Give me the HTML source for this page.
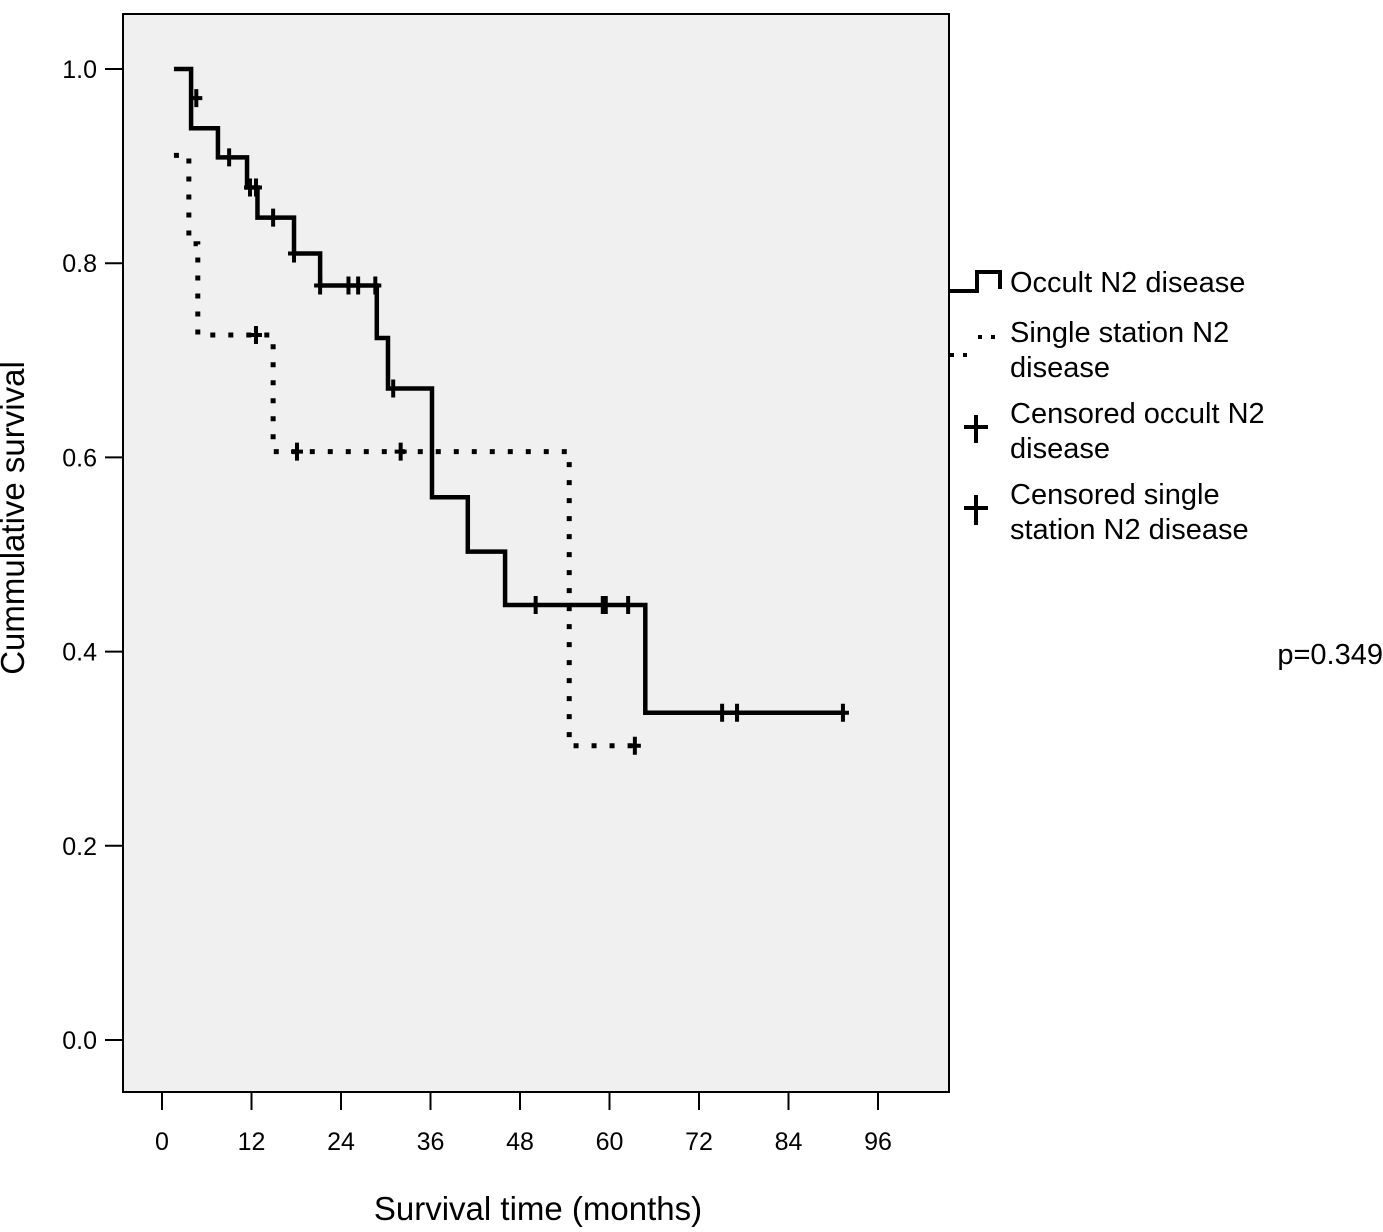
<!DOCTYPE html>
<html><head><meta charset="utf-8"><style>
body{margin:0;background:#fff;}
svg text{font-family:"Liberation Sans",Arial,sans-serif;fill:#000;}
</style></head><body>
<svg id="chart" width="1383" height="1227" xmlns="http://www.w3.org/2000/svg">
<rect x="123" y="14" width="826" height="1078" fill="#f0f0f0" stroke="#000" stroke-width="2"/>
<g id="yaxis"></g>
<g id="xaxis"></g>
<g id="series"></g>
<text transform="translate(24,518) rotate(-90)" text-anchor="middle" font-size="33">Cummulative survival</text>
<text x="538" y="1220" text-anchor="middle" font-size="33">Survival time (months)</text>
<g>
<path d="M950,291 H977 V272 H1000 V289" fill="none" stroke="#000" stroke-width="4"/>
<text x="1010" y="292" font-size="29">Occult N2 disease</text>
<path d="M950,355 H975 M978,337 H1000" fill="none" stroke="#000" stroke-width="4" stroke-dasharray="4,9"/>
<text x="1010" y="342" font-size="29">Single station N2</text>
<text x="1010" y="377" font-size="29">disease</text>
<path d="M964,427 H988 M976,415 H976 V443" stroke="#000" stroke-width="4"/>
<text x="1010" y="423" font-size="29">Censored occult N2</text>
<text x="1010" y="458" font-size="29">disease</text>
<path d="M964,508 H988 M976,495 V525" stroke="#000" stroke-width="4"/>
<text x="1010" y="504" font-size="29">Censored single</text>
<text x="1010" y="539" font-size="29">station N2 disease</text>
</g>
<text x="1383" y="664" text-anchor="end" font-size="29">p=0.349</text>
</svg>
<script>
const yTicks=[0.0,0.2,0.4,0.6,0.8,1.0];
const yTickLabels=["0.0","0.2","0.4","0.6","0.8","1.0"];
const xTicks=[0,12,24,36,48,60,72,84,96];
const xTickLabels=["0","12","24","36","48","60","72","84","96"];
const occultTimes=[1.6,3.9,7.5,11.4,12.8,17.7,21.2,28.8,30.3,36.2,41,46,64.8,91.6];
const occultSurv=[1.0,0.939,0.909,0.878,0.847,0.81,0.777,0.723,0.671,0.559,0.503,0.448,0.337,0.337];
const occultCensTimes=[4.6,9,11.8,12.6,14.9,17.7,21.2,25,26.3,28.6,31,50.1,59.1,59.5,62.5,75.1,77.1,91.3];
const occultCensSurv=[0.97,0.909,0.878,0.878,0.847,0.81,0.777,0.777,0.777,0.777,0.671,0.448,0.448,0.448,0.448,0.337,0.337,0.337];
const singleTimes=[1.6,3.6,4.8,14.9,54.6,63.4];
const singleSurv=[0.911,0.82,0.726,0.606,0.303,0.303];
const singleCensTimes=[12.6,18.1,32,63.4];
const singleCensSurv=[0.726,0.606,0.606,0.303];

const NS="http://www.w3.org/2000/svg";
const xs=t=>162+t*(878-162)/96;
const ys=s=>1040-s*971;
function mk(tag,attrs,parent){const e=document.createElementNS(NS,tag);for(const k in attrs)e.setAttribute(k,attrs[k]);parent.appendChild(e);return e;}
const ya=document.getElementById('yaxis'),xa=document.getElementById('xaxis'),sg=document.getElementById('series');
yTicks.forEach((v,i)=>{
 const l=mk('line',{x1:105,x2:123,y1:ys(v),y2:ys(v),stroke:'#000','stroke-width':2},ya);
 
 
 const t=mk('text',{x:97,y:ys(v)+9,'text-anchor':'end','font-size':25},ya);t.textContent=yTickLabels[i];
 
 
});
xTicks.forEach((v,i)=>{
 const l=mk('line',{x1:xs(v),x2:xs(v),y1:1092,y2:1110,stroke:'#000','stroke-width':2},xa);
 
 
 const t=mk('text',{x:xs(v),y:1150,'text-anchor':'middle','font-size':25},xa);t.textContent=xTickLabels[i];
 
 
});
function stepPath(T,S){let d=`M${xs(T[0])},${ys(S[0])}`;for(let i=1;i<T.length;i++){d+=` H${xs(T[i])} V${ys(S[i])}`;}return d;}
const sp=mk('path',{d:stepPath(singleTimes,singleSurv),fill:'none',stroke:'#000','stroke-width':5,'stroke-dasharray':'5,13'},sg);


const op=mk('path',{d:stepPath(occultTimes,occultSurv),fill:'none',stroke:'#000','stroke-width':4.5},sg);


function cens(T,S,name){T.forEach((t,i)=>{const x=xs(t),y=ys(S[i]);
 const p=mk('path',{d:`M${x-6},${y} H${x+6} M${x},${y-9} V${y+9}`,stroke:'#000','stroke-width':4},sg);
 
 });}
cens(occultCensTimes,occultCensSurv,'censor-mark-occult');
cens(singleCensTimes,singleCensSurv,'censor-mark-single');
</script>
</body></html>
